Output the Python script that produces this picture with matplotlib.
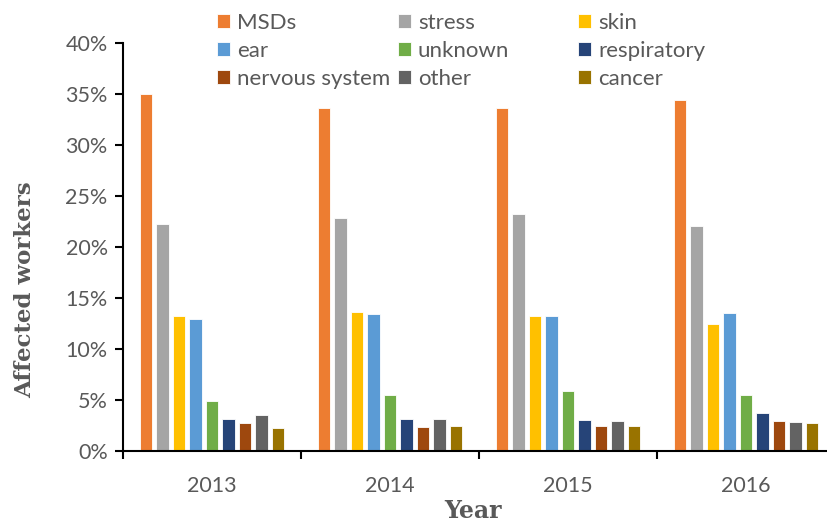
import matplotlib.pyplot as plt
import numpy as np

years = ["2013", "2014", "2015", "2016"]
causes = ["MSDs", "stress", "skin", "ear", "unknown", "respiratory",
          "nervous system", "other", "cancer"]
colors = ["#ED7D31", "#A5A5A5", "#FFC000", "#5B9BD5", "#70AD47", "#264478",
          "#9E480E", "#636363", "#997300"]

# share of affected workers (%) per cause, one value per year
msds = [35.0, 33.6, 33.6, 34.4]
stress = [22.3, 22.8, 23.2, 22.1]
skin = [13.2, 13.6, 13.2, 12.5]
ear = [12.9, 13.4, 13.2, 13.5]
unknown = [4.9, 5.5, 5.9, 5.5]
respiratory = [3.1, 3.1, 3.0, 3.7]
nervous = [2.7, 2.35, 2.5, 2.9]
other = [3.5, 3.1, 2.95, 2.85]
cancer = [2.3, 2.5, 2.5, 2.7]
series = [msds, stress, skin, ear, unknown, respiratory, nervous, other, cancer]

txt = "#595959"
plt.rcParams['font.family'] = ['Lato', 'DejaVu Sans']

fig = plt.figure(figsize=(8.28, 5.24), dpi=100)
ax = fig.add_axes([123/828, 73/524, 712/828, 408/524])

x = np.arange(len(years))
slot = 0.0927
bw = 0.073
handles = []
for i, (name, vals) in enumerate(zip(causes, series)):
    off = (i - 4) * slot
    b = ax.bar(x + off, vals, bw, color=colors[i], edgecolor="white",
               linewidth=0.6, label=name)
    handles.append(b)

ax.set_xlim(-0.5, 3.5)
ax.set_ylim(0, 40)
ax.set_yticks(np.arange(0, 41, 5))
ax.set_yticklabels([f"{v}%" for v in range(0, 41, 5)])
ax.set_xticks(x)
ax.set_xticklabels(years)
ax.set_xticks(np.arange(-0.5, 3.6, 1), minor=True)
ax.tick_params(axis='x', which='major', length=0, pad=18, labelsize=15.5, labelcolor=txt)
ax.tick_params(axis='x', which='minor', length=6, width=1.5, direction='out')
ax.tick_params(axis='y', length=6, width=1.5, labelsize=15.5, labelcolor=txt, pad=5)
for s in ["top", "right"]:
    ax.spines[s].set_visible(False)
ax.spines["left"].set_linewidth(1.5)
ax.spines["bottom"].set_linewidth(1.5)

ax.set_ylabel("Affected workers", family="DejaVu Serif", fontweight="bold",
              fontsize=16.5, color=txt)
ax.yaxis.set_label_coords(-0.122, 0.395)
fig.text(473/828, 1 - 511/524, "Year", family="DejaVu Serif", fontweight="bold",
         fontsize=17, color=txt, ha="center", va="center")

# three single-column legends, spaced like the original (row-wise reading)
col_x = [217, 398, 578]
for c in range(3):
    idx = [c, c + 3, c + 6]
    leg = fig.legend([handles[k] for k in idx], [causes[k] for k in idx],
                     loc="upper left", bbox_to_anchor=(col_x[c]/828, 1 - 13/524),
                     frameon=False, fontsize=16, handlelength=0.6, handleheight=0.6,
                     handletextpad=0.3, labelspacing=0.36, borderaxespad=0,
                     borderpad=0)
    for t in leg.get_texts():
        t.set_color(txt)

fig.savefig("out.png", dpi=100)
